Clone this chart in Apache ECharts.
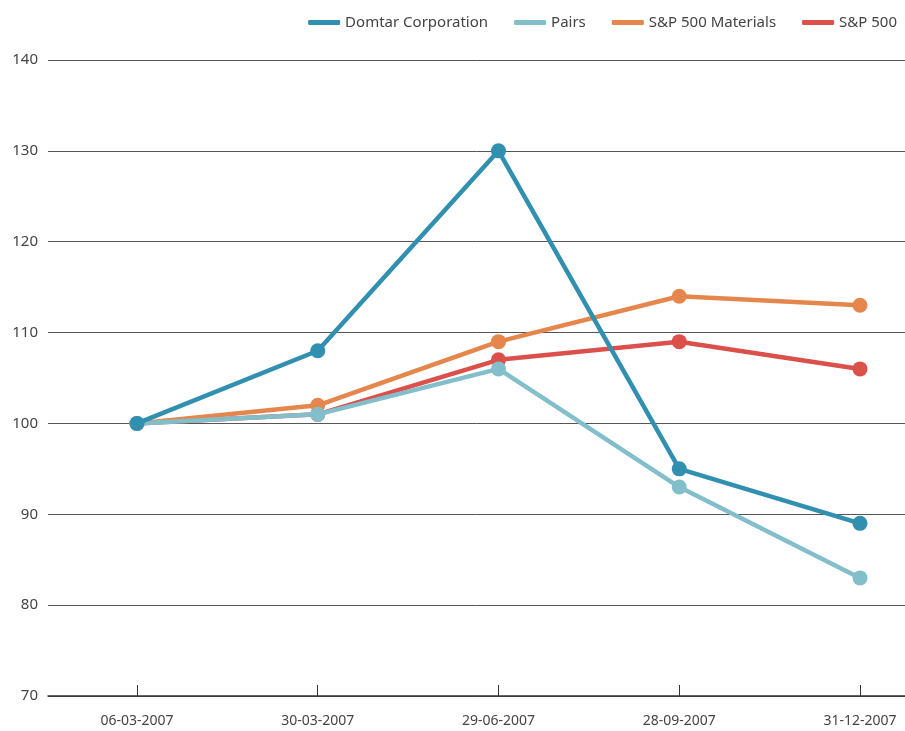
<!DOCTYPE html>
<html lang="en">
  <head>
    <meta charset="UTF-8" />
    <title>Domtar</title>
    <script src="https://cdn.jsdelivr.net/npm/echarts@6.0.0/dist/echarts.min.js"></script>
  </head>
  <body style="margin: 0">
    <div id="main" style="width: 905px; height: 731px"></div>
    <script type="text/javascript">
      const dates = ["06-03-2007", "30-03-2007", "29-06-2007", "28-09-2007", "31-12-2007"];
      const domtar = [100, 108, 130, 95, 89];
      const pairs = [100, 101, 106, 93, 83];
      const spMaterials = [100, 102, 109, 114, 113];
      const sp500 = [100, 101, 107, 109, 106];

      const names = ["Domtar Corporation", "Pairs", "S&P 500 Materials", "S&P 500"];
      const colors = ["#318fb0", "#82bfcb", "#e5874d", "#dc504c"];
      const values = [domtar, pairs, spMaterials, sp500];
      const zs = [5, 4, 3, 2];
      const idx = dates.map((d, i) => i);

      let myChart = echarts.init(document.getElementById("main"));
      const font = "Noto Sans";

      let options = {
        animation: false,
        color: colors,
        textStyle: { fontFamily: font },
        legend: {
          top: 10,
          right: 3,
          icon: "roundRect",
          itemWidth: 32,
          itemHeight: 5,
          itemGap: 26,
          textStyle: { fontSize: 15, color: "#444", fontFamily: font },
          data: names,
        },
        grid: { left: 48, right: 0, top: 60, bottom: 35, containLabel: false },
        xAxis: {
          type: "value",
          min: -0.4924,
          max: 4.249,
          axisLine: { onZero: false, lineStyle: { color: "#333", width: 1.5 } },
          axisTick: {
            customValues: idx,
            inside: true,
            length: 11,
            lineStyle: { color: "#333" },
          },
          axisLabel: {
            customValues: idx,
            margin: 18,
            fontSize: 14,
            color: "#444",
            formatter: (v) => dates[v],
          },
          splitLine: { show: false },
        },
        yAxis: {
          type: "value",
          min: 70,
          max: 140,
          interval: 10,
          axisLine: { show: false },
          axisTick: { show: false },
          axisLabel: { margin: 10, fontSize: 15, color: "#444" },
          splitLine: { lineStyle: { color: "#555", width: 1 } },
        },
        series: names.map((n, i) => ({
          name: n,
          type: "line",
          data: values[i].map((v, j) => [idx[j], v]),
          z: zs[i],
          symbol: "circle",
          symbolSize: 15,
          lineStyle: { width: 4.5, color: colors[i] },
          itemStyle: { color: colors[i] },
          emphasis: { disabled: true },
        })),
      };
      myChart.setOption(options);
    </script>
  </body>
</html>
